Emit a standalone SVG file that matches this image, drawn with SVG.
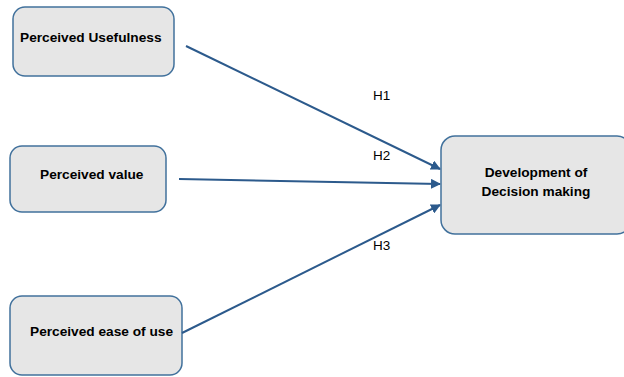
<svg xmlns="http://www.w3.org/2000/svg" width="624" height="377" viewBox="0 0 624 377">
<defs>
<style>
.box{fill:#e6e6e6;stroke:#41719c;stroke-width:1.5}
.lbl{font-family:"Liberation Sans",Arial,sans-serif;font-weight:bold;font-size:13.7px;fill:#000}
.h{font-family:"Liberation Sans",Arial,sans-serif;font-size:13.5px;fill:#000}
.edge{stroke:#2c5a8c;stroke-width:2;fill:none;marker-end:url(#ah)}
</style>
<marker id="ah" viewBox="0 0 10 10" refX="9" refY="5" markerWidth="5" markerHeight="5" orient="auto" markerUnits="strokeWidth">
<path d="M0,0 L10,5 L0,10 z" fill="#2c5a8c"/>
</marker>
</defs>
<rect width="624" height="377" fill="#fff"/>
<g id="n1"><rect class="box" x="13" y="7" width="161" height="69" rx="12"/><text class="lbl" x="20" y="42">Perceived Usefulness</text></g>
<g id="n2"><rect class="box" x="10" y="146" width="156" height="66" rx="12"/><text class="lbl" x="40" y="179">Perceived value</text></g>
<g id="n3"><rect class="box" x="10" y="296" width="172" height="79" rx="12"/><text class="lbl" x="30" y="336">Perceived ease of use</text></g>
<g id="n4"><rect class="box" x="441" y="136" width="190" height="98" rx="14"/><text class="lbl" x="536" y="177" text-anchor="middle">Development of</text><text class="lbl" x="536" y="196" text-anchor="middle">Decision making</text></g>
<g id="edges">
<line class="edge" x1="186" y1="46" x2="440" y2="169"/>
<line class="edge" x1="179" y1="179" x2="440" y2="184"/>
<line class="edge" x1="182" y1="333" x2="440" y2="205"/>
<text class="h" x="373" y="100">H1</text>
<text class="h" x="373" y="160">H2</text>
<text class="h" x="373" y="250">H3</text>
</g>
</svg>
